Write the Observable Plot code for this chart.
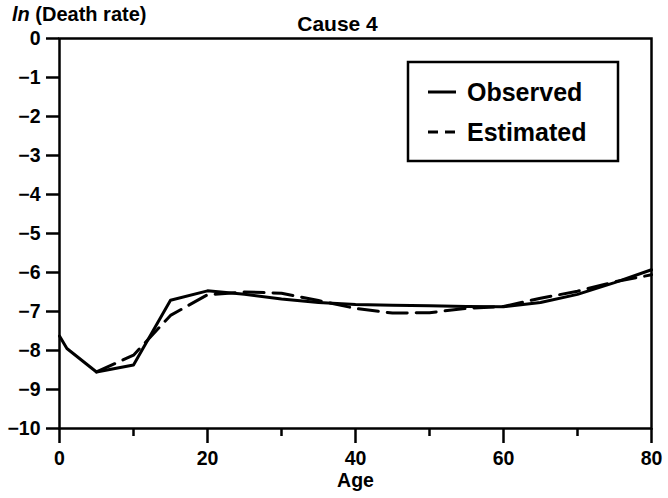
<!DOCTYPE html>
<html><head><meta charset="utf-8">
<script src="https://cdn.jsdelivr.net/npm/d3@7"></script>
<script src="https://cdn.jsdelivr.net/npm/@observablehq/plot@0.6"></script>
<style>body{margin:0;background:#fff} svg{display:block}</style>
</head><body><div id="chart"></div>
<script>
const observedAge = [0, 1, 5, 10, 15, 20, 25, 30, 35, 40, 45, 50, 55, 60, 65, 70, 75, 80];
const observedLn = [-7.63, -7.95, -8.55, -8.37, -6.71, -6.47, -6.56, -6.68, -6.77, -6.82, -6.84, -6.85, -6.87, -6.88, -6.77, -6.56, -6.26, -5.93];
const estimatedAge = [5, 10, 15, 20, 25, 30, 35, 40, 45, 50, 55, 60, 65, 70, 75, 80];
const estimatedLn = [-8.55, -8.12, -7.1, -6.57, -6.5, -6.53, -6.72, -6.92, -7.04, -7.03, -6.92, -6.87, -6.66, -6.48, -6.24, -6.06];
const xMajorTicks = [0, 20, 40, 60, 80];
const xMinorTicks = [10, 30, 50, 70];
const yTicks = [0, -1, -2, -3, -4, -5, -6, -7, -8, -9, -10];
const titleText = "Cause 4";
const xLabel = "Age";
const yLabelItalic = "ln";
const yLabelRest = " (Death rate)";
const seriesNames = ["Observed", "Estimated"];

const observed = observedAge.map((a, i) => ({age: a, ln: observedLn[i]}));
const estimated = estimatedAge.map((a, i) => ({age: a, ln: estimatedLn[i]}));
const font = "'Liberation Sans', Arial, Helvetica, sans-serif";

const chart = Plot.plot({
  width: 668, height: 498,
  marginLeft: 59, marginRight: 17, marginTop: 38, marginBottom: 70,
  style: `font-family:${font};font-size:19px;font-weight:bold;background:#fff;color:#000;`,
  x: {domain: [0, 80], label: null},
  y: {domain: [-10, 0], label: null},
  marks: [
    Plot.frame({stroke: "#000", strokeWidth: 2.5}),
    Plot.axisY({ticks: yTicks, tickSize: 13, tickPadding: 6, strokeWidth: 2.5, label: null, fontSize: 19.5}),
    Plot.axisX({ticks: xMajorTicks, tickSize: 15, tickPadding: 8, strokeWidth: 2.5, label: null, fontSize: 19.5}),
    Plot.axisX({ticks: xMinorTicks, tickSize: 8, strokeWidth: 2.5, text: null, label: null}),
    Plot.line(estimated, {x: "age", y: "ln", stroke: "#000", strokeWidth: 3, strokeDasharray: "20,9"}),
    Plot.line(observed, {x: "age", y: "ln", stroke: "#000", strokeWidth: 3}),
    Plot.text([titleText], {frameAnchor: "top", dx: -18, dy: -22, fontSize: 21}),
    Plot.text([xLabel], {frameAnchor: "bottom", dy: 58, fontSize: 19.5})
  ]
});

const svg = d3.select(chart);
const yl = svg.append("text")
  .attr("x", 12).attr("y", 21).attr("text-anchor", "start")
  .attr("font-size", 20).attr("font-weight", "bold").attr("fill", "#000");
yl.append("tspan").attr("font-style", "italic").text(yLabelItalic);
yl.append("tspan").text(yLabelRest);

const lg = svg.append("g");
lg.append("rect").attr("x", 408).attr("y", 62).attr("width", 210).attr("height", 99)
  .attr("fill", "#fff").attr("stroke", "#000").attr("stroke-width", 2.5);
const rows = [{y: 92, dash: null}, {y: 132, dash: "10,7"}];
rows.forEach((r, i) => {
  const ln = lg.append("line").attr("x1", 428).attr("x2", 456).attr("y1", r.y).attr("y2", r.y)
    .attr("stroke", "#000").attr("stroke-width", 3);
  if (r.dash) ln.attr("stroke-dasharray", r.dash);
  lg.append("text").attr("x", 467).attr("y", r.y + 9).attr("text-anchor", "start")
    .attr("font-size", 25).attr("font-weight", "bold").attr("fill", "#000")
    .text(seriesNames[i]);
});

document.getElementById("chart").appendChild(chart);
</script>
</body></html>
